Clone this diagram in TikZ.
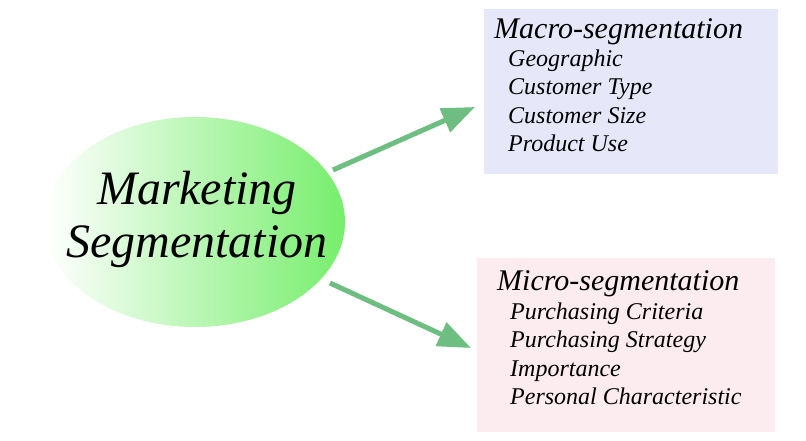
\documentclass[tikz,border=0pt]{standalone}
\usepackage{fontspec}
\setmainfont{Liberation Serif}
\usetikzlibrary{arrows.meta}
\definecolor{arrowgreen}{RGB}{110,190,130}
\definecolor{ellgreen}{RGB}{118,238,108}
\definecolor{macrofill}{RGB}{230,232,250}
\definecolor{microfill}{RGB}{252,236,239}
\tikzset{
  conn/.style={draw=arrowgreen, line width=5pt, -{Triangle[length=33pt,width=25pt]}},
  boxtitle/.style={anchor=base west, inner sep=0pt, font=\fontsize{30}{33}\selectfont\itshape},
  boxitem/.style={anchor=base west, inner sep=0pt, font=\fontsize{24}{27}\selectfont\itshape},
  mainlabel/.style={align=center, font=\fontsize{48}{53}\selectfont\itshape}
}
\begin{document}
\begin{tikzpicture}[x=1pt,y=-1pt]
\useasboundingbox (0,0) rectangle (806,440);
\fill[white] (0,0) rectangle (806,440);
% ellipse
\shade[left color=white, right color=ellgreen] (195,222) ellipse [x radius=150, y radius=105];
\node[mainlabel] (main) at (197,219) {Marketing\\Segmentation};
% boxes
\node[fill=macrofill, minimum width=294pt, minimum height=165pt, inner sep=0pt] (macro) at (631,91.5) {};
\node[fill=microfill, minimum width=298pt, minimum height=174pt, inner sep=0pt] (micro) at (626,345) {};
\node[boxtitle] (mt) at (494,38) {Macro-segmentation};
\node[boxitem] (m1) at (508,66) {Geographic};
\node[boxitem] (m2) at (508,94.5) {Customer Type};
\node[boxitem] (m3) at (508,123) {Customer Size};
\node[boxitem] (m4) at (508,151.5) {Product Use};
\node[boxtitle] (it) at (497,290) {Micro-segmentation};
\node[boxitem] (i1) at (510,319) {Purchasing Criteria};
\node[boxitem] (i2) at (510,347.5) {Purchasing Strategy};
\node[boxitem] (i3) at (510,376) {Importance};
\node[boxitem] (i4) at (510,404.5) {Personal Characteristic};
% arrows
\coordinate (a1s) at (333,170);
\coordinate (a1e) at (475,107);
\coordinate (a2s) at (330,283);
\coordinate (a2e) at (471,348);
\draw[conn] (a1s) -- (a1e);
\draw[conn] (a2s) -- (a2e);
\end{tikzpicture}
\end{document}
